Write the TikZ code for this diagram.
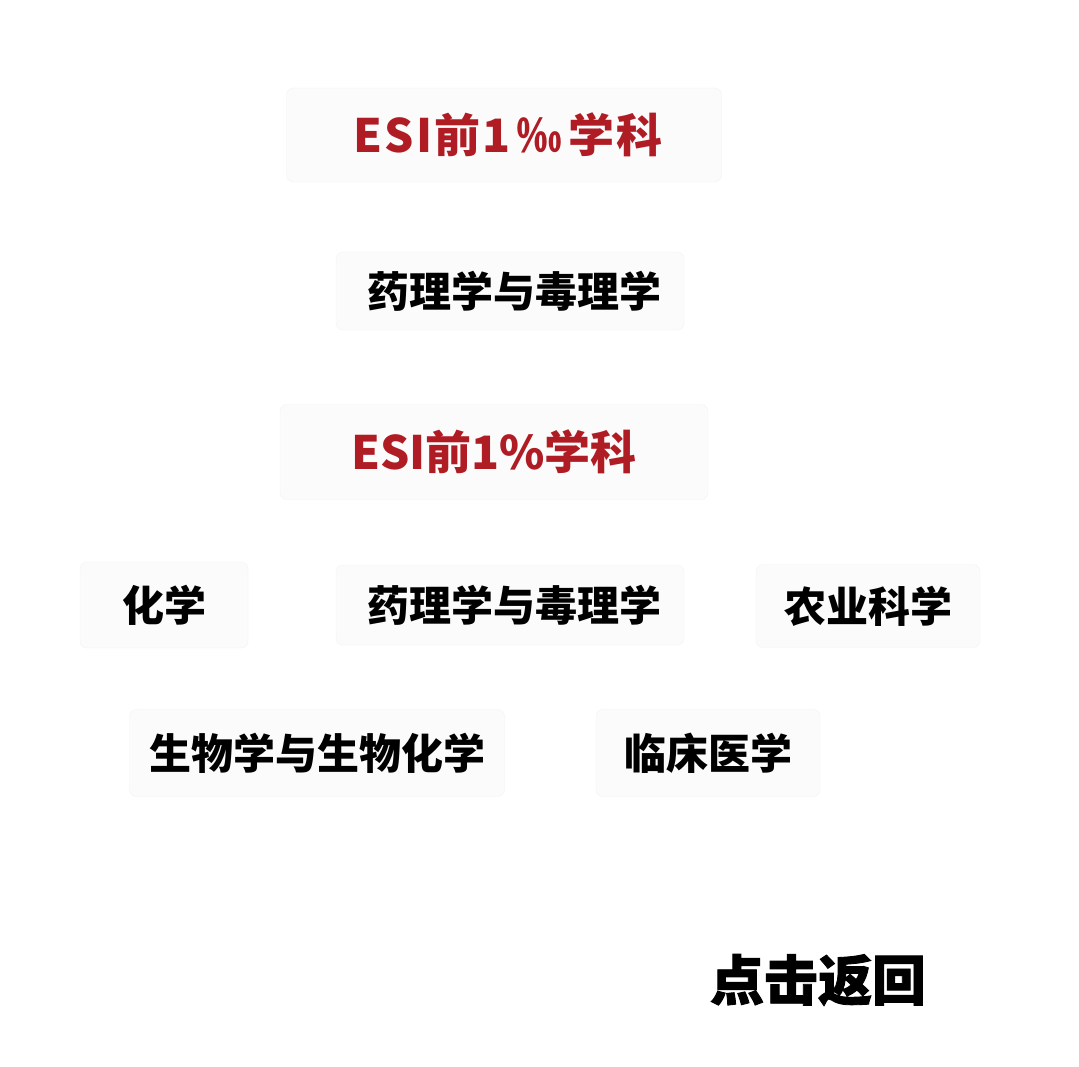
\documentclass[tikz,border=0pt]{standalone}
\usepackage{fontspec}
\newfontfamily\cjk{Noto Sans CJK SC}
\newfontfamily\cjkheavy{Noto Sans CJK SC}[BoldFeatures={FakeBold=1.6}]
\definecolor{esired}{HTML}{B01C24}
\definecolor{boxfill}{HTML}{FBFBFB}
\definecolor{boxline}{HTML}{F1F3F4}

\begin{document}
\begin{tikzpicture}
        [
            x = 1pt, y = -1pt,
            box/.style = {rectangle, rounded corners=7pt, draw=boxline, fill=boxfill, align=center, inner sep=0pt, font=\cjk\bfseries\fontsize{42}{42}\selectfont},
            title/.style = {box, text=esired, font=\cjk\bfseries\fontsize{46}{46}\selectfont}
        ]
        \useasboundingbox (0, 0) rectangle (1079, 1067);
        \fill[white] (0, 0) rectangle (1079, 1067);

        \node [title, minimum width=435pt, minimum height=94pt] at (504, 135) (top) {\hspace{8pt}E\hspace{2pt}S\hspace{2pt}I\hspace{2pt}前\hspace{2pt}1\hspace{6pt}‰\hspace{6pt}学\hspace{2pt}科};
        \node [box, minimum width=348pt, minimum height=78pt] at (510, 291) (pharmtop) {\hspace{8pt}药理学与毒理学};
        \node [title, minimum width=428pt, minimum height=95pt] at (494, 452) (esi) {ESI前1\%学科};

        \node [box, minimum width=168pt, minimum height=86pt] at (164, 605) (chem) {化学};
        \node [box, minimum width=348pt, minimum height=80pt] at (510, 605) (pharm) {\hspace{8pt}药理学与毒理学};
        \node [box, minimum width=224pt, minimum height=83pt] at (868, 606) (agri) {农业科学};
        \node [box, minimum width=375pt, minimum height=87pt] at (317, 753) (bio) {生物学与生物化学};
        \node [box, minimum width=224pt, minimum height=87pt] at (708, 753) (clin) {临床医学};

        \node [font=\cjkheavy\bfseries\fontsize{54}{54}\selectfont, inner sep=0pt] at (818, 980) (back) {点击返回};
    \end{tikzpicture}
\end{document}
